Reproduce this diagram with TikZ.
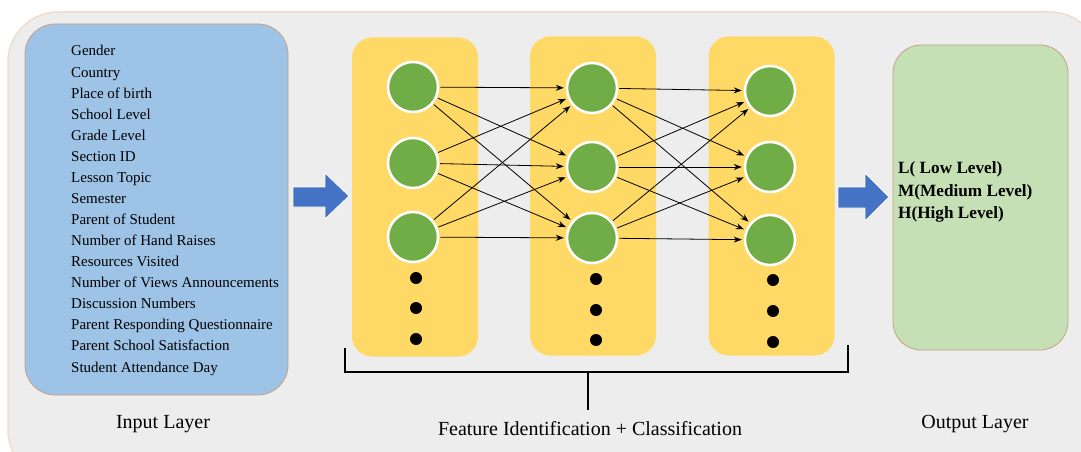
\documentclass[tikz,border=0pt]{standalone}
\usepackage{fontspec}
\setmainfont{Liberation Serif}
\usetikzlibrary{arrows.meta}
\definecolor{bggray}{HTML}{EDEDED}
\definecolor{bgedge}{HTML}{F2DCCB}
\definecolor{inblue}{HTML}{9DC3E6}
\definecolor{boxedge}{HTML}{C9A084}
\definecolor{layeryellow}{HTML}{FFD966}
\definecolor{nodegreen}{HTML}{70AD47}
\definecolor{outgreen}{HTML}{C5E0B4}
\definecolor{arrowblue}{HTML}{4472C4}
\tikzset{
  panel/.style={draw=boxedge, line width=0.8pt, rounded corners=30pt, inner sep=0pt},
  layerbox/.style={fill=layeryellow, draw=none, rounded corners=20pt, minimum width=126pt, minimum height=319pt, inner sep=0pt},
  neuron/.style={circle, fill=nodegreen, draw=white, line width=2.5pt, minimum size=50pt, inner sep=0pt},
  dotnode/.style={circle, fill=black, minimum size=12pt, inner sep=0pt},
  link/.style={-{Stealth[length=8pt,width=6pt]}, line width=0.8pt, shorten <=1pt, shorten >=2pt},
  bigarrow/.style={fill=arrowblue, draw=white, line width=0.8pt},
  listtext/.style={font=\fontsize{15}{18}\selectfont, anchor=base west, inner sep=0pt},
  outtext/.style={font=\fontsize{17.2}{20}\selectfont\bfseries, anchor=base west, inner sep=0pt},
  caption/.style={font=\fontsize{20}{24}\selectfont, anchor=base, inner sep=0pt},
}
\begin{document}
\begin{tikzpicture}[x=1pt,y=-1pt]
\useasboundingbox (0,0) rectangle (1081,452);
\begin{scope}
\clip (0,0) rectangle (1081,452);
\draw[fill=bggray, draw=bgedge, line width=1.5pt, rounded corners=50pt] (8,12) rectangle (1100,480);
\end{scope}

% input panel
\node[panel, fill=inblue, minimum width=263pt, minimum height=371pt] (in) at (156.5,209.5) {};
\foreach \t [count=\i from 0] in {Gender,Country,Place of birth,School Level,Grade Level,Section ID,Lesson Topic,Semester,Parent of Student,Number of Hand Raises,Resources Visited,Number of Views Announcements,Discussion Numbers,Parent Responding Questionnaire,Parent School Satisfaction,Student Attendance Day}
  \node[listtext] (f\i) at (71,{56+21.07*\i}) {\t};
\node[caption] (incap) at (163,428) {Input Layer};

% arrow 1
\draw[bigarrow] (293,187) -- (325,187) -- (325,173) -- (349,196) -- (325,219) -- (325,207) -- (293,207) -- cycle;

% layers
\node[layerbox] (L1) at (415,197) {};
\node[layerbox] (L2) at (593,196) {};
\node[layerbox] (L3) at (771.5,196) {};

\node[neuron] (a1) at (413,87) {};
\node[neuron] (a2) at (413,163) {};
\node[neuron] (a3) at (413,237) {};
\node[neuron] (b1) at (592,88) {};
\node[neuron] (b2) at (592,167) {};
\node[neuron] (b3) at (592,238) {};
\node[neuron] (c1) at (770,91) {};
\node[neuron] (c2) at (770,167) {};
\node[neuron] (c3) at (770,240) {};

\foreach \y [count=\k] in {278,308,339} \node[dotnode] (da\k) at (416,\y) {};
\foreach \y [count=\k] in {279,310,340} \node[dotnode] (db\k) at (596,\y) {};
\foreach \y [count=\k] in {280,311,342} \node[dotnode] (dc\k) at (773,\y) {};

\foreach \s in {1,2,3}
  \foreach \t in {1,2,3} {
    \draw[link] (a\s) -- (b\t);
    \draw[link] (b\s) -- (c\t);
  }

% bracket
\coordinate (brL) at (345,348);
\coordinate (brR) at (848,345);
\coordinate (brM) at (588,372);
\coordinate (brT) at (588,410);
\draw[line width=1.5pt] (brL) |- (brR |- brM) -- (brR);
\draw[line width=1.5pt] (brM) -- (brT);
\node[caption] (fcap) at (590,435) {Feature Identification + Classification};

% arrow 2
\draw[bigarrow] (838,187) -- (865,187) -- (865,173) -- (889,197) -- (865,221) -- (865,208) -- (838,208) -- cycle;

% output panel
\node[panel, fill=outgreen, rounded corners=28pt, minimum width=175pt, minimum height=305pt] (out) at (980.5,197.5) {};
\node[outtext] (o1) at (898,173) {L( Low Level)};
\node[outtext] (o2) at (898,196) {M(Medium Level)};
\node[outtext] (o3) at (898,218) {H(High Level)};
\node[caption] (outcap) at (975,428) {Output Layer};
\end{tikzpicture}
\end{document}
